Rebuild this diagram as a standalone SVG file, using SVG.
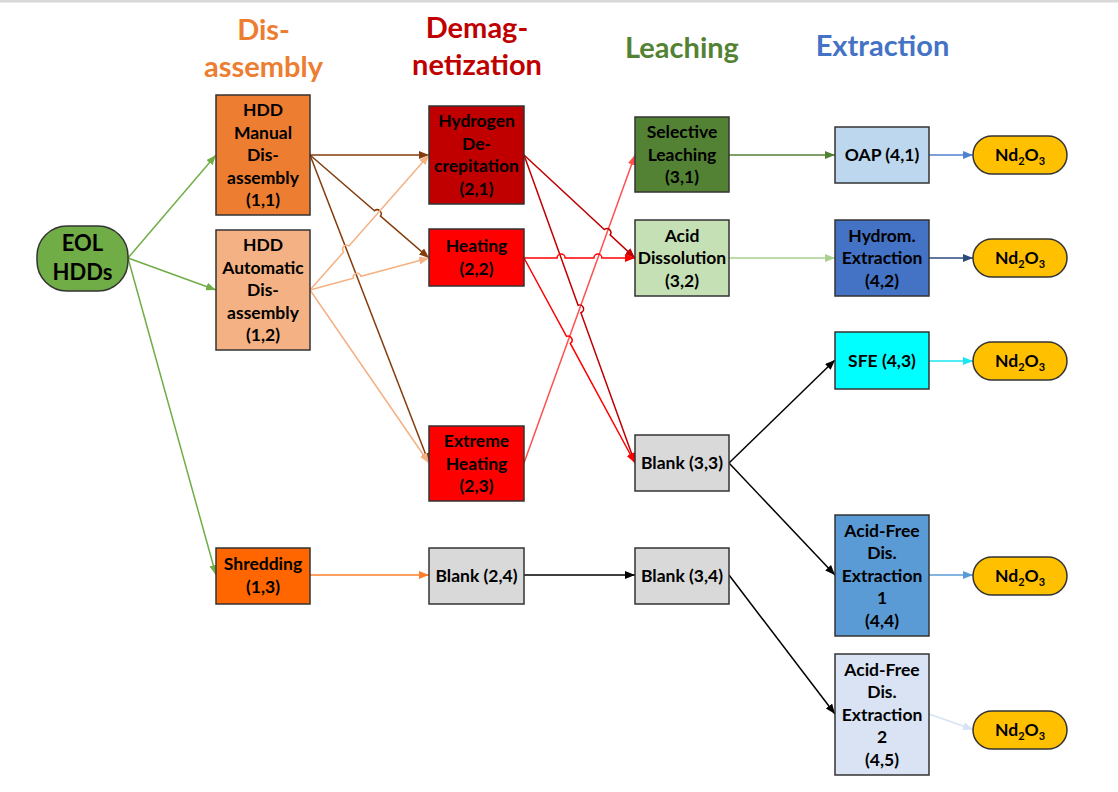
<svg xmlns="http://www.w3.org/2000/svg" width="1118" height="792" viewBox="0 0 1118 792">
<style>
.t{font-family:Lato,"Liberation Sans",sans-serif;font-weight:700;font-size:17.5px;text-anchor:middle;fill:#000}
.h{font-family:Lato,"Liberation Sans",sans-serif;font-weight:700;font-size:29px;text-anchor:middle}
.b{stroke:#333;stroke-width:1.5}
.c{fill:none;stroke-width:1.5}
</style>
<defs>
<marker id="mGreen" viewBox="0 0 10 8" refX="10" refY="4" markerWidth="10" markerHeight="8" markerUnits="userSpaceOnUse" orient="auto"><path d="M0,0 L10,4 L0,8 z" fill="#70AD47"/></marker>
<marker id="mBrown" viewBox="0 0 10 8" refX="10" refY="4" markerWidth="10" markerHeight="8" markerUnits="userSpaceOnUse" orient="auto"><path d="M0,0 L10,4 L0,8 z" fill="#843C0C"/></marker>
<marker id="mLOrange" viewBox="0 0 10 8" refX="10" refY="4" markerWidth="10" markerHeight="8" markerUnits="userSpaceOnUse" orient="auto"><path d="M0,0 L10,4 L0,8 z" fill="#F4B183"/></marker>
<marker id="mOrange" viewBox="0 0 10 8" refX="10" refY="4" markerWidth="10" markerHeight="8" markerUnits="userSpaceOnUse" orient="auto"><path d="M0,0 L10,4 L0,8 z" fill="#FF7F2A"/></marker>
<marker id="mDRed" viewBox="0 0 10 8" refX="10" refY="4" markerWidth="10" markerHeight="8" markerUnits="userSpaceOnUse" orient="auto"><path d="M0,0 L10,4 L0,8 z" fill="#C00000"/></marker>
<marker id="mRed" viewBox="0 0 10 8" refX="10" refY="4" markerWidth="10" markerHeight="8" markerUnits="userSpaceOnUse" orient="auto"><path d="M0,0 L10,4 L0,8 z" fill="#FF0000"/></marker>
<marker id="mLRed" viewBox="0 0 10 8" refX="10" refY="4" markerWidth="10" markerHeight="8" markerUnits="userSpaceOnUse" orient="auto"><path d="M0,0 L10,4 L0,8 z" fill="#FF5050"/></marker>
<marker id="mBlack" viewBox="0 0 10 8" refX="10" refY="4" markerWidth="10" markerHeight="8" markerUnits="userSpaceOnUse" orient="auto"><path d="M0,0 L10,4 L0,8 z" fill="#000"/></marker>
<marker id="mDGreen" viewBox="0 0 10 8" refX="10" refY="4" markerWidth="10" markerHeight="8" markerUnits="userSpaceOnUse" orient="auto"><path d="M0,0 L10,4 L0,8 z" fill="#548235"/></marker>
<marker id="mLGreen" viewBox="0 0 10 8" refX="10" refY="4" markerWidth="10" markerHeight="8" markerUnits="userSpaceOnUse" orient="auto"><path d="M0,0 L10,4 L0,8 z" fill="#A9D18E"/></marker>
<marker id="mBlue" viewBox="0 0 10 8" refX="10" refY="4" markerWidth="10" markerHeight="8" markerUnits="userSpaceOnUse" orient="auto"><path d="M0,0 L10,4 L0,8 z" fill="#4F81D0"/></marker>
<marker id="mNavy" viewBox="0 0 10 8" refX="10" refY="4" markerWidth="10" markerHeight="8" markerUnits="userSpaceOnUse" orient="auto"><path d="M0,0 L10,4 L0,8 z" fill="#2E4A7D"/></marker>
<marker id="mCyan" viewBox="0 0 10 8" refX="10" refY="4" markerWidth="10" markerHeight="8" markerUnits="userSpaceOnUse" orient="auto"><path d="M0,0 L10,4 L0,8 z" fill="#19E6F0"/></marker>
<marker id="mSky" viewBox="0 0 10 8" refX="10" refY="4" markerWidth="10" markerHeight="8" markerUnits="userSpaceOnUse" orient="auto"><path d="M0,0 L10,4 L0,8 z" fill="#5B9BD5"/></marker>
<marker id="mPale" viewBox="0 0 10 8" refX="10" refY="4" markerWidth="10" markerHeight="8" markerUnits="userSpaceOnUse" orient="auto"><path d="M0,0 L10,4 L0,8 z" fill="#D6E2F5"/></marker>
</defs>
<rect x="0" y="0" width="1118" height="792" fill="#fff"/>
<rect x="0" y="0" width="1118" height="2.5" fill="#D8D8D8"/>

<g id="headers">
<text class="h" x="263.5" y="39.5" fill="#ED7D31">Dis-</text>
<text class="h" x="263.5" y="77" fill="#ED7D31">assembly</text>
<text class="h" x="477" y="37.5" fill="#C00000">Demag-</text>
<text class="h" x="477" y="75" fill="#C00000">netization</text>
<text class="h" x="682" y="58" fill="#548235">Leaching</text>
<text class="h" x="882.5" y="56" fill="#4472C4">Extraction</text>
</g>

<g id="connectors">
<path class="c" stroke="#70AD47" marker-end="url(#mGreen)" d="M128,258 L216,155"/>
<path class="c" stroke="#70AD47" marker-end="url(#mGreen)" d="M128,258 L216,290"/>
<path class="c" stroke="#70AD47" marker-end="url(#mGreen)" d="M128,258 L216,575"/>

<path class="c" stroke="#843C0C" marker-end="url(#mBrown)" d="M310,155 L429,155"/>
<path class="c" stroke="#843C0C" marker-end="url(#mBrown)" d="M310,155 L374.5,210.8 A4,4 0 0 1 380.5,216 L429,258"/>
<path class="c" stroke="#843C0C" marker-end="url(#mBrown)" d="M310,155 L429,463"/>

<path class="c" stroke="#F4B183" marker-end="url(#mLOrange)" d="M310,290 L343.7,251.9 A4,4 0 0 1 348.9,245.9 L429,155"/>
<path class="c" stroke="#F4B183" marker-end="url(#mLOrange)" d="M310,290 L353.3,278.3 A4,4 0 0 1 361.1,276.3 L429,258"/>
<path class="c" stroke="#F4B183" marker-end="url(#mLOrange)" d="M310,290 L429,463"/>

<path class="c" stroke="#FF7F2A" marker-end="url(#mOrange)" d="M310,575 L429,575"/>

<path class="c" stroke="#FF5050" marker-end="url(#mLRed)" d="M524,463 L635,155"/>
<path class="c" stroke="#C00000" marker-end="url(#mDRed)" d="M524,155 L604.3,229.5 A4,4 0 0 1 610.1,234.9 L635,258"/>
<path class="c" stroke="#C00000" marker-end="url(#mDRed)" d="M524,155 L578.1,305.2 A4,4 0 0 1 580.9,312.8 L635,463"/>
<path class="c" stroke="#FF0000" marker-end="url(#mRed)" d="M524,258 L557.1,258 A4,4 0 0 1 565.1,258 L593.9,258 A4,4 0 0 1 601.9,258 L635,258"/>
<path class="c" stroke="#FF0000" marker-end="url(#mRed)" d="M524,258 L566.5,336.4 A4,4 0 0 1 570.3,343.4 L635,463"/>

<path class="c" stroke="#000" marker-end="url(#mBlack)" d="M524,575 L635,575"/>

<path class="c" stroke="#548235" marker-end="url(#mDGreen)" d="M729,155 L835,155"/>
<path class="c" stroke="#A9D18E" marker-end="url(#mLGreen)" d="M729,258 L835,258"/>
<path class="c" stroke="#000" marker-end="url(#mBlack)" d="M729,463 L835,360"/>
<path class="c" stroke="#000" marker-end="url(#mBlack)" d="M729,463 L835,575"/>
<path class="c" stroke="#000" marker-end="url(#mBlack)" d="M729,575 L835,714"/>

<path class="c" stroke="#4F81D0" marker-end="url(#mBlue)" d="M929,155 L973,155"/>
<path class="c" stroke="#2E4A7D" marker-end="url(#mNavy)" d="M929,258 L973,258"/>
<path class="c" stroke="#19E6F0" marker-end="url(#mCyan)" d="M929,361 L973,361"/>
<path class="c" stroke="#5B9BD5" marker-end="url(#mSky)" d="M929,575 L973,575"/>
<path class="c" stroke="#D6E2F5" marker-end="url(#mPale)" d="M929,714 L973,729.5"/>
</g>

<g id="eol">
<rect class="b" x="37" y="226" width="91" height="65" rx="30" ry="30" fill="#70AD47"/>
<text class="t" style="font-size:22px" x="82.5" y="251">EOL</text>
<text class="t" style="font-size:22px" x="82.5" y="279.5">HDDs</text>
</g>

<g id="n11">
<rect class="b" x="216" y="95" width="94" height="120" fill="#ED7D31"/>
<text class="t" x="263" y="116">HDD</text>
<text class="t" x="263" y="138.5">Manual</text>
<text class="t" x="263" y="161">Dis-</text>
<text class="t" x="263" y="183.5">assembly</text>
<text class="t" x="263" y="206">(1,1)</text>
</g>
<g id="n12">
<rect class="b" x="216" y="230" width="94" height="120" fill="#F4B183"/>
<text class="t" x="263" y="251">HDD</text>
<text class="t" x="263" y="273.5">Automatic</text>
<text class="t" x="263" y="296">Dis-</text>
<text class="t" x="263" y="318.5">assembly</text>
<text class="t" x="263" y="341">(1,2)</text>
</g>
<g id="n13">
<rect class="b" x="216" y="548" width="94" height="56" fill="#FF6600"/>
<text class="t" x="263" y="570">Shredding</text>
<text class="t" x="263" y="592.5">(1,3)</text>
</g>

<g id="n21">
<rect class="b" x="429" y="106" width="95" height="98" fill="#C00000"/>
<text class="t" x="476.5" y="127.3">Hydrogen</text>
<text class="t" x="476.5" y="149.8">De-</text>
<text class="t" x="476.5" y="172.3">crepitation</text>
<text class="t" x="476.5" y="194.8">(2,1)</text>
</g>
<g id="n22">
<rect class="b" x="429" y="229" width="95" height="57" fill="#FF0000"/>
<text class="t" x="476.5" y="252.3">Heating</text>
<text class="t" x="476.5" y="274.8">(2,2)</text>
</g>
<g id="n23">
<rect class="b" x="429" y="426" width="95" height="75" fill="#FF0000"/>
<text class="t" x="476.5" y="447">Extreme</text>
<text class="t" x="476.5" y="469.5">Heating</text>
<text class="t" x="476.5" y="492">(2,3)</text>
</g>
<g id="n24">
<rect class="b" x="429" y="548" width="95" height="56" fill="#D9D9D9"/>
<text class="t" x="476.5" y="582">Blank (2,4)</text>
</g>

<g id="n31">
<rect class="b" x="635" y="117" width="94" height="75" fill="#548235"/>
<text class="t" x="682" y="138">Selective</text>
<text class="t" x="682" y="160.5">Leaching</text>
<text class="t" x="682" y="183">(3,1)</text>
</g>
<g id="n32">
<rect class="b" x="635" y="220" width="94" height="76" fill="#C5E0B4"/>
<text class="t" x="682" y="241.5">Acid</text>
<text class="t" x="682" y="264">Dissolution</text>
<text class="t" x="682" y="286.5">(3,2)</text>
</g>
<g id="n33">
<rect class="b" x="635" y="435" width="94" height="56" fill="#D9D9D9"/>
<text class="t" x="682" y="469">Blank (3,3)</text>
</g>
<g id="n34">
<rect class="b" x="635" y="548" width="94" height="56" fill="#D9D9D9"/>
<text class="t" x="682" y="582">Blank (3,4)</text>
</g>

<g id="n41">
<rect class="b" x="835" y="127" width="94" height="56" fill="#BDD7EE"/>
<text class="t" x="882" y="161">OAP (4,1)</text>
</g>
<g id="n42">
<rect class="b" x="835" y="220" width="94" height="76" fill="#4472C4"/>
<text class="t" x="882" y="241.5">Hydrom.</text>
<text class="t" x="882" y="264">Extraction</text>
<text class="t" x="882" y="286.5">(4,2)</text>
</g>
<g id="n43">
<rect class="b" x="835" y="332" width="94" height="57" fill="#00FFFF"/>
<text class="t" x="882" y="366.5">SFE (4,3)</text>
</g>
<g id="n44">
<rect class="b" x="835" y="515" width="94" height="121" fill="#5B9BD5"/>
<text class="t" x="882" y="536.5">Acid-Free</text>
<text class="t" x="882" y="559">Dis.</text>
<text class="t" x="882" y="581.5">Extraction</text>
<text class="t" x="882" y="604">1</text>
<text class="t" x="882" y="626.5">(4,4)</text>
</g>
<g id="n45">
<rect class="b" x="835" y="654" width="94" height="121" fill="#DAE3F3"/>
<text class="t" x="882" y="675.5">Acid-Free</text>
<text class="t" x="882" y="698">Dis.</text>
<text class="t" x="882" y="720.5">Extraction</text>
<text class="t" x="882" y="743">2</text>
<text class="t" x="882" y="765.5">(4,5)</text>
</g>

<g id="nd1">
<rect class="b" x="973" y="136" width="94" height="38" rx="19" ry="19" fill="#FFC000"/>
<text class="t" x="1020" y="161">Nd<tspan font-size="11" dy="4">2</tspan><tspan dy="-4">O</tspan><tspan font-size="11" dy="4">3</tspan></text>
</g>
<g id="nd2">
<rect class="b" x="973" y="239" width="94" height="38" rx="19" ry="19" fill="#FFC000"/>
<text class="t" x="1020" y="264">Nd<tspan font-size="11" dy="4">2</tspan><tspan dy="-4">O</tspan><tspan font-size="11" dy="4">3</tspan></text>
</g>
<g id="nd3">
<rect class="b" x="973" y="342" width="94" height="38" rx="19" ry="19" fill="#FFC000"/>
<text class="t" x="1020" y="367">Nd<tspan font-size="11" dy="4">2</tspan><tspan dy="-4">O</tspan><tspan font-size="11" dy="4">3</tspan></text>
</g>
<g id="nd4">
<rect class="b" x="973" y="557" width="94" height="38" rx="19" ry="19" fill="#FFC000"/>
<text class="t" x="1020" y="582">Nd<tspan font-size="11" dy="4">2</tspan><tspan dy="-4">O</tspan><tspan font-size="11" dy="4">3</tspan></text>
</g>
<g id="nd5">
<rect class="b" x="973" y="711" width="94" height="38" rx="19" ry="19" fill="#FFC000"/>
<text class="t" x="1020" y="736">Nd<tspan font-size="11" dy="4">2</tspan><tspan dy="-4">O</tspan><tspan font-size="11" dy="4">3</tspan></text>
</g>
</svg>
